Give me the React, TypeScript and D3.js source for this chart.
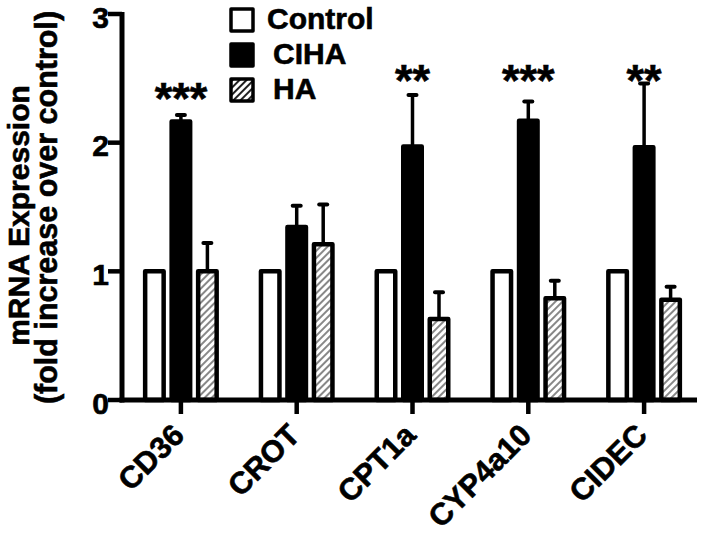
import React from "react";
import * as d3 from "d3";

const categories = ["CD36", "CROT", "CPT1a", "CYP4a10", "CIDEC"];
const seriesNames = ["Control", "CIHA", "HA"];
const controlValues = [1, 1, 1, 1, 1];
const controlErrors = [0, 0, 0, 0, 0];
const cihaValues = [2.165, 1.345, 1.97, 2.17, 1.965];
const cihaErrors = [0.05, 0.165, 0.4, 0.15, 0.495];
const haValues = [1.0, 1.21, 0.63, 0.79, 0.78];
const haErrors = [0.22, 0.31, 0.207, 0.137, 0.1];
const starLabels = ["***", "", "**", "***", "**"];
const starLevels = [2.22, 0, 2.36, 2.36, 2.36];
const yTicks = [0, 1, 2, 3];

const FONT = "'Liberation Sans', Arial, Helvetica, sans-serif";

export default function App() {
  const W = 705;
  const H = 536;
  const y = d3.scaleLinear().domain([0, 3]).range([400, 14]);
  const x = d3.scaleBand().domain(categories).range([123, 702]).padding(0);
  const sub = d3.scalePoint().domain(seriesNames).range([-26.5, 26.5]);

  const values = [controlValues, cihaValues, haValues];
  const errors = [controlErrors, cihaErrors, haErrors];
  const fills = ["#ffffff", "#000000", "url(#hatch)"];
  const barW = 18.5;
  const sw = 4.5;

  const cx = (c: string) => (x(c) as number) + x.bandwidth() / 2;
  const ts: React.CSSProperties = {
    fontFamily: FONT,
    fontWeight: 700,
    stroke: "#000",
    strokeWidth: 0.6,
    fill: "#000",
  };

  return (
    <svg
      width={W}
      height={H}
      style={{ position: "absolute", left: 0, top: 0, background: "#fff" }}
    >
      <defs>
        <pattern
          id="hatch"
          patternUnits="userSpaceOnUse"
          width={5}
          height={5}
          patternTransform="rotate(45)"
        >
          <rect width={5} height={5} fill="#fff" />
          <line x1={1} y1={0} x2={1} y2={5} stroke="#888" strokeWidth={2} />
        </pattern>
        <pattern
          id="hatchLegend"
          patternUnits="userSpaceOnUse"
          width={5}
          height={5}
          patternTransform="rotate(45)"
        >
          <rect width={5} height={5} fill="#fff" />
          <line x1={1} y1={0} x2={1} y2={5} stroke="#222" strokeWidth={2} />
        </pattern>
      </defs>
      <rect width={W} height={H} fill="#fff" />

      {/* bars */}
      {seriesNames.map((s, si) =>
        categories.map((c, ci) => {
          const v = values[si][ci];
          const e = errors[si][ci];
          const bx = cx(c) + (sub(s) as number);
          return (
            <g key={s + c}>
              {e > 0 && (
                <g stroke="#000">
                  <line x1={bx} x2={bx} y1={y(v)} y2={y(v + e)} strokeWidth={3.5} />
                  <line
                    x1={bx - 4}
                    x2={bx + 4}
                    y1={y(v + e)}
                    y2={y(v + e)}
                    strokeWidth={4}
                    strokeLinecap="round"
                  />
                </g>
              )}
              <rect
                x={bx - barW / 2}
                y={y(v)}
                width={barW}
                height={y(0) - y(v)}
                fill={fills[si]}
                stroke="#000"
                strokeWidth={sw}
                strokeLinejoin="round"
              />
            </g>
          );
        })
      )}

      {/* y axis */}
      <line x1={122} x2={122} y1={y(3) - 2} y2={y(0) + 2.5} stroke="#000" strokeWidth={5} />
      {yTicks.map((t) => (
        <g key={t}>
          <line x1={108} x2={122} y1={y(t)} y2={y(t)} stroke="#000" strokeWidth={4.5} />
          <text x={109} y={y(t) + 13.5} textAnchor="end" style={{ ...ts, fontSize: 30 }}>
            {t}
          </text>
        </g>
      ))}

      {/* x axis */}
      <line x1={119.5} x2={697} y1={y(0)} y2={y(0)} stroke="#000" strokeWidth={5} />
      {categories.map((c) => (
        <g key={c}>
          <line x1={cx(c)} x2={cx(c)} y1={y(0)} y2={y(0) + 14} stroke="#000" strokeWidth={4.5} />
          <text
            transform={`translate(${cx(c) + 5},${437}) rotate(-45)`}
            textAnchor="end"
            style={{ ...ts, fontSize: 30.5 }}
          >
            {c}
          </text>
        </g>
      ))}

      {/* significance stars */}
      {categories.map((c, i) =>
        starLabels[i] ? (
          <text
            key={"s" + c}
            x={cx(c)}
            y={y(starLevels[i])}
            textAnchor="middle"
            style={{ ...ts, fontSize: 45 }}
          >
            {starLabels[i]}
          </text>
        ) : null
      )}

      {/* y label */}
      <text
        transform={`translate(29,215.5) rotate(-90)`}
        textAnchor="middle"
        style={{ ...ts, fontSize: 30 }}
      >
        mRNA Expression
      </text>
      <text
        transform={`translate(57,207.5) rotate(-90)`}
        textAnchor="middle"
        style={{ ...ts, fontSize: 30.5 }}
      >
        (fold increase over control)
      </text>

      {/* legend */}
      {seriesNames.map((s, i) => (
        <g key={"l" + s}>
          <rect
            x={231}
            y={9 + i * 35}
            width={22}
            height={22}
            fill={i === 0 ? "#fff" : i === 1 ? "#000" : "url(#hatchLegend)"}
            stroke="#000"
            strokeWidth={3.5}
            strokeLinejoin="round"
          />
          <text x={i === 0 ? 267 : 273} y={28.5 + i * 35} style={{ ...ts, fontSize: 30 }}>
            {s}
          </text>
        </g>
      ))}
    </svg>
  );
}
